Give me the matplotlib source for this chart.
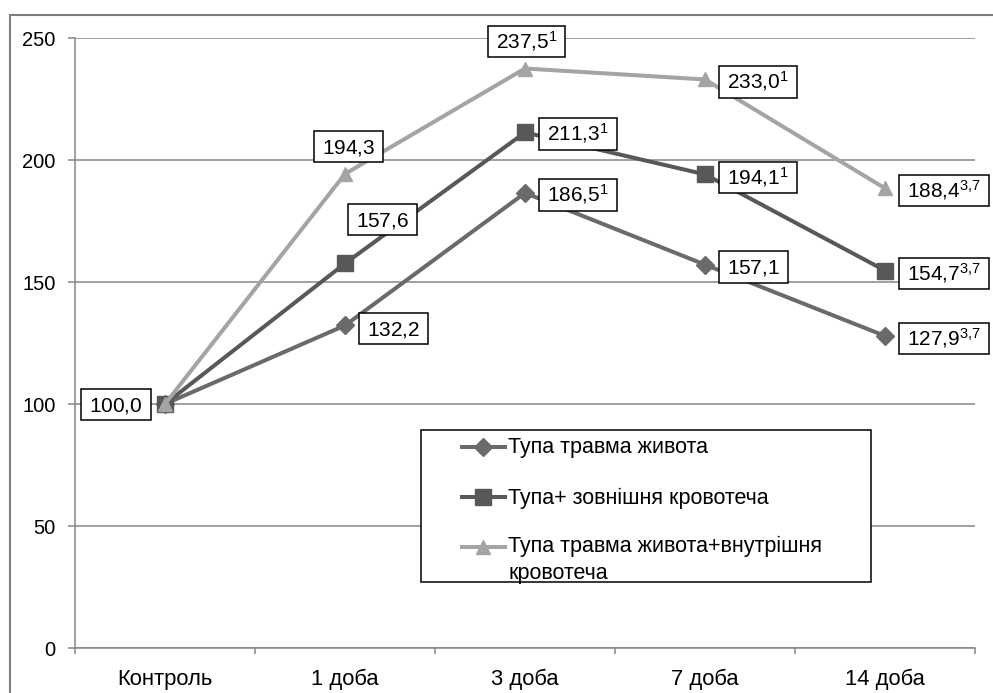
import matplotlib
matplotlib.use("Agg")
import matplotlib.pyplot as plt
from matplotlib.path import Path
from matplotlib.patches import Rectangle
from matplotlib.lines import Line2D

plt.rcParams['font.family'] = ['Liberation Sans', 'DejaVu Sans']
plt.rcParams['mathtext.fontset'] = 'custom'
plt.rcParams['mathtext.rm'] = 'Liberation Sans'
plt.rcParams['mathtext.it'] = 'Liberation Sans'
plt.rcParams['mathtext.bf'] = 'Liberation Sans'

# ---- data -------------------------------------------------------------
categories = ["Контроль", "1 доба", "3 доба", "7 доба", "14 доба"]
series_names = [
    "Тупа травма живота",
    "Тупа+ зовнішня кровотеча",
    "Тупа травма живота+внутрішня\nкровотеча",
]
blunt = [100.0, 132.2, 186.5, 157.1, 127.9]
blunt_external = [100.0, 157.6, 211.3, 194.1, 154.7]
blunt_internal = [100.0, 194.3, 237.5, 233.0, 188.4]

# significance marks printed as superscripts after each value
blunt_marks = ["", "", "1", "", "3,7"]
blunt_external_marks = ["", "", "1", "1", "3,7"]
blunt_internal_marks = ["", "", "1", "1", "3,7"]

y_ticks = [0, 50, 100, 150, 200, 250]

# ---- figure and axes --------------------------------------------------
W, H = 993, 693
fig = plt.figure(figsize=(W / 100, H / 100), dpi=100)


def fx(px):
    return px / W


def fy(py):
    return 1 - py / H


ax = fig.add_axes([fx(75), fy(648), (975 - 75) / W, (648 - 38) / H])

grid_col = "#868686"
styles = [
    dict(color="#6a6a6a", marker="D", ms=9),
    dict(color="#585858", marker="s", ms=11),
    dict(color="#a4a4a4", marker="^", ms=10.5),
]
lw = 2.9

x = list(range(len(categories)))
all_values = [blunt, blunt_external, blunt_internal]
all_marks = [blunt_marks, blunt_external_marks, blunt_internal_marks]

for vals, st, name in zip(all_values, styles, series_names):
    ax.plot(x, vals, color=st["color"], lw=lw, marker=st["marker"],
            ms=st["ms"], mfc=st["color"], mec=st["color"], label=name,
            zorder=3, clip_on=False)

ax.set_xlim(-0.5, len(categories) - 0.5)
ax.set_ylim(0, 250)
ax.set_yticks(y_ticks)
ax.set_yticklabels([str(t) for t in y_ticks])
ax.set_xticks(x)
ax.set_xticklabels(categories)
ax.set_xticks([i - 0.5 for i in range(len(categories) + 1)], minor=True)

ax.tick_params(axis="y", length=5, width=1.1, color=grid_col, pad=9,
               labelsize=14.5)
ax.tick_params(axis="x", which="major", length=0, pad=15, labelsize=15.8)
ax.tick_params(axis="x", which="minor", length=4.5, width=1.1,
               color=grid_col)

ax.grid(axis="y", color=grid_col, lw=1.1, zorder=0)
ax.set_axisbelow(True)
for side in ("top", "right"):
    ax.spines[side].set_visible(False)
for side in ("left", "bottom"):
    ax.spines[side].set_color(grid_col)
    ax.spines[side].set_linewidth(1.1)

# ---- value labels -----------------------------------------------------
PAD_X = 0.385   # horizontal padding, fraction of font size
PAD_B = 0.21    # box bottom below text bottom
BOX_H = 1.51    # box height


def label_box(x0, y0, width, height, mutation_size):
    left = x0 - PAD_X * mutation_size
    right = x0 + width + PAD_X * mutation_size
    bottom = y0 - PAD_B * mutation_size
    top = bottom + BOX_H * mutation_size
    return Path([(left, bottom), (right, bottom), (right, top),
                 (left, top), (left, bottom)], closed=True)


label_fs = 15
pad_x_px = PAD_X * label_fs * 100 / 72
box = dict(boxstyle=label_box, fc="white", ec="black", lw=1.1)


def fmt(v, mark):
    s = r"$\mathregular{" + f"{v:.1f}".replace(".", "{,}") + "}"
    if mark:
        s += r"^{\mathregular{" + mark.replace(",", "{,}") + "}}"
    return s + "$"


# placement per series and point: (anchor, dx, dy) in pixels
placements = [
    [("left", -14, -7.5), ("right", 14, -10), ("right", 14, -8.5),
     ("right", 14, -9), ("right", 14, -9.5)],
    [None, ("aboveleft", 3, 37), ("right", 14, -8), ("right", 14, -9.5),
     ("right", 14, -9.5)],
    [None, ("above", 3.5, 20.5), ("above", 1.5, 20.5), ("right", 14, -9),
     ("right", 14, -9)],
]

for vals, marks, places in zip(all_values, all_marks, placements):
    for i, (v, m, p) in enumerate(zip(vals, marks, places)):
        if p is None:
            continue
        side, dx, dy = p
        if side in ("right", "aboveleft"):
            kw = dict(ha="left", xytext=(dx + pad_x_px, dy))
        elif side == "left":
            kw = dict(ha="right", xytext=(dx - pad_x_px, dy))
        else:
            kw = dict(ha="center", xytext=(dx, dy))
        ax.annotate(fmt(v, m), (i, v), textcoords="offset pixels",
                    fontsize=label_fs, va="baseline", bbox=box, zorder=5,
                    annotation_clip=False, **kw)

# ---- legend -----------------------------------------------------------
fig.add_artist(Rectangle((fx(421), fy(582)), fx(871) - fx(421),
                         fy(430) - fy(582), transform=fig.transFigure,
                         fc="white", ec="black", lw=1.1, zorder=4))
legend_rows = [446.5, 497, 546.5]
line_gap = 25
for row, st, name in zip(legend_rows, styles, series_names):
    fig.add_artist(Line2D([fx(462), fx(505)], [fy(row), fy(row)],
                          transform=fig.transFigure, color=st["color"],
                          lw=lw, zorder=5))
    fig.add_artist(Line2D([fx(483)], [fy(row)], transform=fig.transFigure,
                          color=st["color"], marker=st["marker"],
                          ms=st["ms"], zorder=6))
    # baseline alignment refers to the last line of a multi-line label
    last_baseline = row + 7 + name.count("\n") * line_gap
    fig.text(fx(508), fy(last_baseline), name, ha="left", va="baseline",
             fontsize=15.5, linespacing=1.34, zorder=6)

# ---- outer chart frame ------------------------------------------------
fig.add_artist(Rectangle((fx(10), -0.2), 1.5, fy(15) + 0.2,
                         transform=fig.transFigure, fill=False,
                         ec="#7f7f7f", lw=1.5, zorder=10))

fig.savefig("out.png", dpi=100)
